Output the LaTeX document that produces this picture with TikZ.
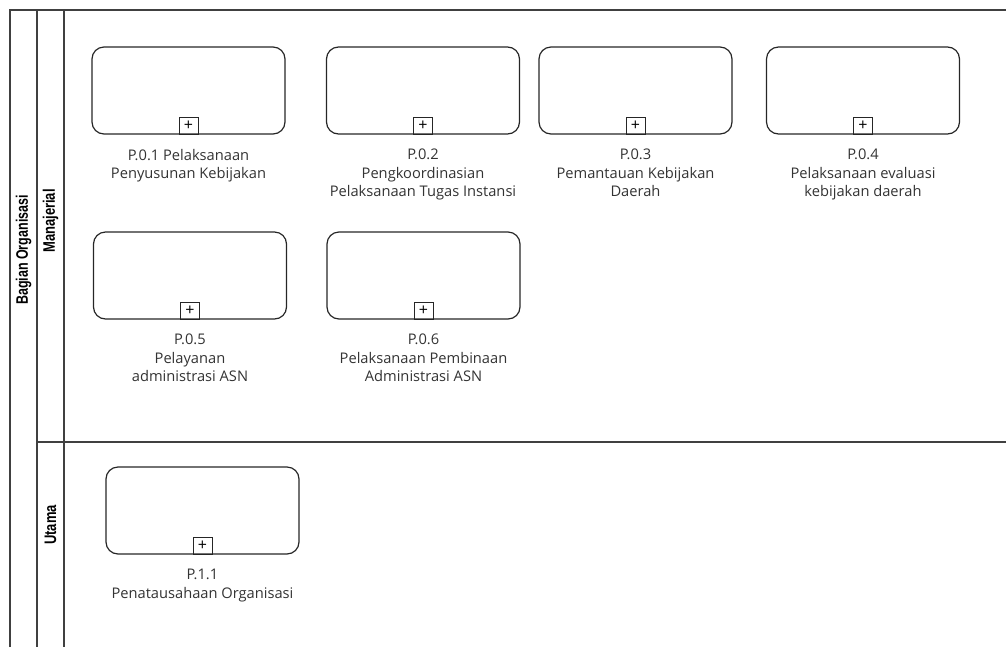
\documentclass[tikz,border=0pt]{standalone}
\usepackage{fontspec}
\setmainfont{Open Sans}
\newfontfamily\lanefont{Liberation Sans}
\usetikzlibrary{positioning}
\tikzset{
  lane/.style={draw=black!75, line width=1.1pt},
  task/.style={draw=black!85, line width=0.9pt, rounded corners=9pt, minimum width=144.75pt, minimum height=65.25pt, inner sep=0pt},
  subproc/.style={draw=black!85, line width=0.75pt, minimum width=14.25pt, minimum height=12.75pt, inner sep=0pt, anchor=south, font=\fontsize{12}{12}\selectfont},
  tasklabel/.style={align=center, text=black!80, inner sep=0pt, font=\fontsize{11}{14}\selectfont},
  lanelabel/.style={rotate=90, inner sep=0pt, font=\lanefont\bfseries\fontsize{12.5}{12.5}\selectfont}
}

\begin{document}
\begin{tikzpicture}[x=0.75pt, y=-0.75pt]
    \useasboundingbox (0,0) rectangle (1006,647);

    % Pool and lanes
    \draw[lane] (10,647) |- (1006,10);
    \draw[lane] (37,10) -- (37,647);
    \draw[lane] (64,10) -- (64,647);
    \draw[lane] (37,442) -- (1006,442);

    \node[lanelabel] (pool) at (23.5,250) {\scalebox{0.75}[1]{Bagian Organisasi}};
    \node[lanelabel] (manajerial) at (50.5,221) {\scalebox{0.78}[1]{Manajerial}};
    \node[lanelabel] (utama) at (50.5,525) {\scalebox{0.78}[1]{Utama}};

    % Manajerial lane, first row
    \node[task] (p01) at (188.5,90.5) {};
    \node[subproc] (p01m) at (p01.south) {+};
    \node[tasklabel, below=10.5pt of p01] (p01t) {P.0.1 Pelaksanaan\\Penyusunan Kebijakan};

    \node[task] (p02) at (423,90.5) {};
    \node[subproc] (p02m) at (p02.south) {+};
    \node[tasklabel, below=10.5pt of p02] (p02t) {P.0.2\\Pengkoordinasian\\Pelaksanaan Tugas Instansi};

    \node[task] (p03) at (635.5,90.5) {};
    \node[subproc] (p03m) at (p03.south) {+};
    \node[tasklabel, below=10.5pt of p03] (p03t) {P.0.3\\Pemantauan Kebijakan\\Daerah};

    \node[task] (p04) at (863,90.5) {};
    \node[subproc] (p04m) at (p04.south) {+};
    \node[tasklabel, below=10.5pt of p04] (p04t) {P.0.4\\Pelaksanaan evaluasi\\kebijakan daerah};

    % Manajerial lane, second row
    \node[task] (p05) at (190,275.5) {};
    \node[subproc] (p05m) at (p05.south) {+};
    \node[tasklabel, below=10.5pt of p05] (p05t) {P.0.5\\Pelayanan\\administrasi ASN};

    \node[task] (p06) at (423.5,275.5) {};
    \node[subproc] (p06m) at (p06.south) {+};
    \node[tasklabel, below=10.5pt of p06] (p06t) {P.0.6\\Pelaksanaan Pembinaan\\Administrasi ASN};

    % Utama lane
    \node[task] (p11) at (202.5,510.5) {};
    \node[subproc] (p11m) at (p11.south) {+};
    \node[tasklabel, below=10.5pt of p11] (p11t) {P.1.1\\Penatausahaan Organisasi};
\end{tikzpicture}
\end{document}
